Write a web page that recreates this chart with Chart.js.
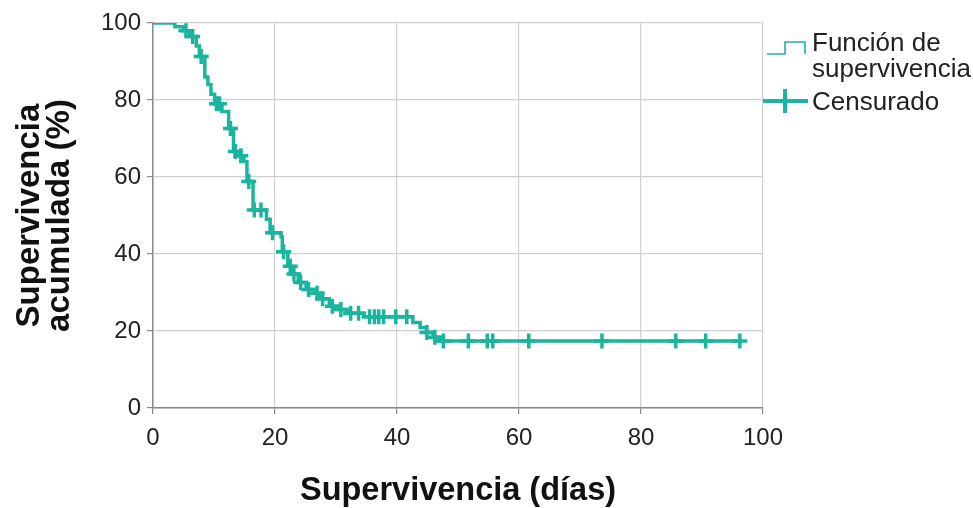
<!DOCTYPE html>
<html><head><meta charset="utf-8">
<script src="https://cdn.jsdelivr.net/npm/chart.js@4"></script>
<style>
html,body{margin:0;padding:0;background:#fff;}
#wrap{position:relative;width:973px;height:508px;overflow:hidden;}
#legend{position:absolute;left:760px;top:29px;font-family:"Liberation Sans",Arial,sans-serif;font-size:26px;color:#222;}
.item{position:relative;padding-left:52px;line-height:26px;}
.item svg{position:absolute;left:0;}
</style></head>
<body>
<div id="wrap">
<canvas id="c" width="973" height="508"></canvas>
<div id="legend">
  <div class="item"><svg width="50" height="40" style="top:3px"><polyline points="7,22 25,22 25,10 45,10 45,22" fill="none" stroke="#1ab59e" stroke-width="1.6"/></svg>Función de<br>supervivencia</div>
  <div class="item" style="margin-top:7px"><svg width="52" height="30" style="top:-2px"><line x1="3" y1="15" x2="48" y2="15" stroke="#1ab59e" stroke-width="4"/><line x1="25" y1="3" x2="25" y2="27" stroke="#1ab59e" stroke-width="4"/></svg>Censurado</div>
</div>
</div>
<script>
// Kaplan-Meier step function: event times (días) and survival (%) after each event
const eventTimes    = [0, 3.6, 5.0, 6.0, 7.1, 7.6, 8.5, 9.0, 9.5, 10.1, 11.3, 12.4, 13.2, 14.1, 14.9, 15.4, 16.4, 18.6, 19.2, 21.0, 21.2, 22.1, 22.8, 23.8, 25.1, 26.5, 27.4, 28.9, 30.3, 31.8, 34.5, 42.6, 43.8, 44.8, 45.9, 47.0, 96.2];
const eventSurvival = [100, 99.0, 98.0, 96.5, 94.0, 91.3, 86.0, 84.0, 81.5, 79.0, 77.0, 72.6, 66.6, 65.5, 64.0, 58.8, 51.4, 49.0, 45.5, 44.5, 40.6, 36.8, 34.8, 32.6, 30.8, 29.8, 28.4, 26.4, 25.6, 24.6, 23.7, 22.2, 20.9, 19.6, 18.4, 17.4, 17.4];
// Censored observations
const censorTimes    = [5.4, 6.5, 7.9, 10.4, 10.9, 12.7, 13.5, 14.4, 15.7, 16.6, 17.7, 19.6, 21.4, 22.5, 23.1, 24.2, 25.5, 26.9, 27.8, 29.4, 30.8, 32.4, 33.7, 35.5, 36.3, 37.0, 37.8, 39.8, 41.6, 44.9, 46.2, 47.6, 51.7, 54.8, 55.7, 61.6, 73.6, 85.7, 90.6, 96.2];
const censorSurvival = [98.0, 96.5, 91.3, 79.0, 79.0, 72.6, 66.6, 65.5, 58.8, 51.4, 51.4, 45.5, 40.6, 36.8, 34.8, 32.6, 30.8, 29.8, 28.4, 26.4, 25.6, 24.6, 24.6, 23.7, 23.7, 23.7, 23.7, 23.7, 23.7, 19.6, 18.4, 17.4, 17.4, 17.4, 17.4, 17.4, 17.4, 17.4, 17.4, 17.4];
const xTicks = [0, 20, 40, 60, 80, 100];
const yTicks = [0, 20, 40, 60, 80, 100];

const teal = '#1ab59e';
const curve = eventTimes.map((t, i) => ({x: t, y: eventSurvival[i]}));
const cens = censorTimes.map((t, i) => ({x: t, y: censorSurvival[i]}));

new Chart(document.getElementById('c'), {
  type: 'line',
  data: {
    datasets: [
      {label: 'Función de supervivencia', data: curve, stepped: true, borderColor: teal, borderWidth: 3.5, pointRadius: 0, fill: false},
      {label: 'Censurado', data: cens, showLine: false, pointStyle: 'cross', pointRadius: 7.5, pointBorderWidth: 3.5, borderColor: teal, pointBorderColor: teal, backgroundColor: teal}
    ]
  },
  options: {
    responsive: false, animation: false, devicePixelRatio: 1,
    layout: {padding: {left: 0, right: 210, top: 23, bottom: 0}},
    plugins: {legend: {display: false}, tooltip: {enabled: false}},
    scales: {
      x: {
        type: 'linear', min: 0, max: 100,
        afterBuildTicks: s => { s.ticks = xTicks.map(v => ({value: v})); },
        ticks: {font: {family: 'Liberation Sans', size: 24}, color: '#222', padding: 10, maxRotation: 0},
        grid: {color: '#cfcfcf', lineWidth: 1.2, tickLength: 6, tickColor: '#888'},
        border: {color: '#8a8a8a', width: 1.5},
        title: {display: true, text: 'Supervivencia (días)', color: '#111', font: {family: 'Liberation Sans', size: 32.5, weight: 'bold', lineHeight: 1}, padding: {top: 0, bottom: 1}},
        afterFit: s => { s.height = 100; }
      },
      y: {
        type: 'linear', min: 0, max: 100,
        afterBuildTicks: s => { s.ticks = yTicks.map(v => ({value: v})); },
        ticks: {font: {family: 'Liberation Sans', size: 24}, color: '#222', padding: 6},
        grid: {color: '#cfcfcf', lineWidth: 1.2, tickLength: 6, tickColor: '#888'},
        border: {color: '#8a8a8a', width: 1.5},
        title: {display: true, text: ['Supervivencia', 'acumulada (%)'], color: '#111', font: {family: 'Liberation Sans', size: 33, weight: 'bold', lineHeight: 0.91}, padding: {top: 15, bottom: 0}},
        afterFit: s => { s.width = 153; }
      }
    }
  }
});
</script>
</body></html>
